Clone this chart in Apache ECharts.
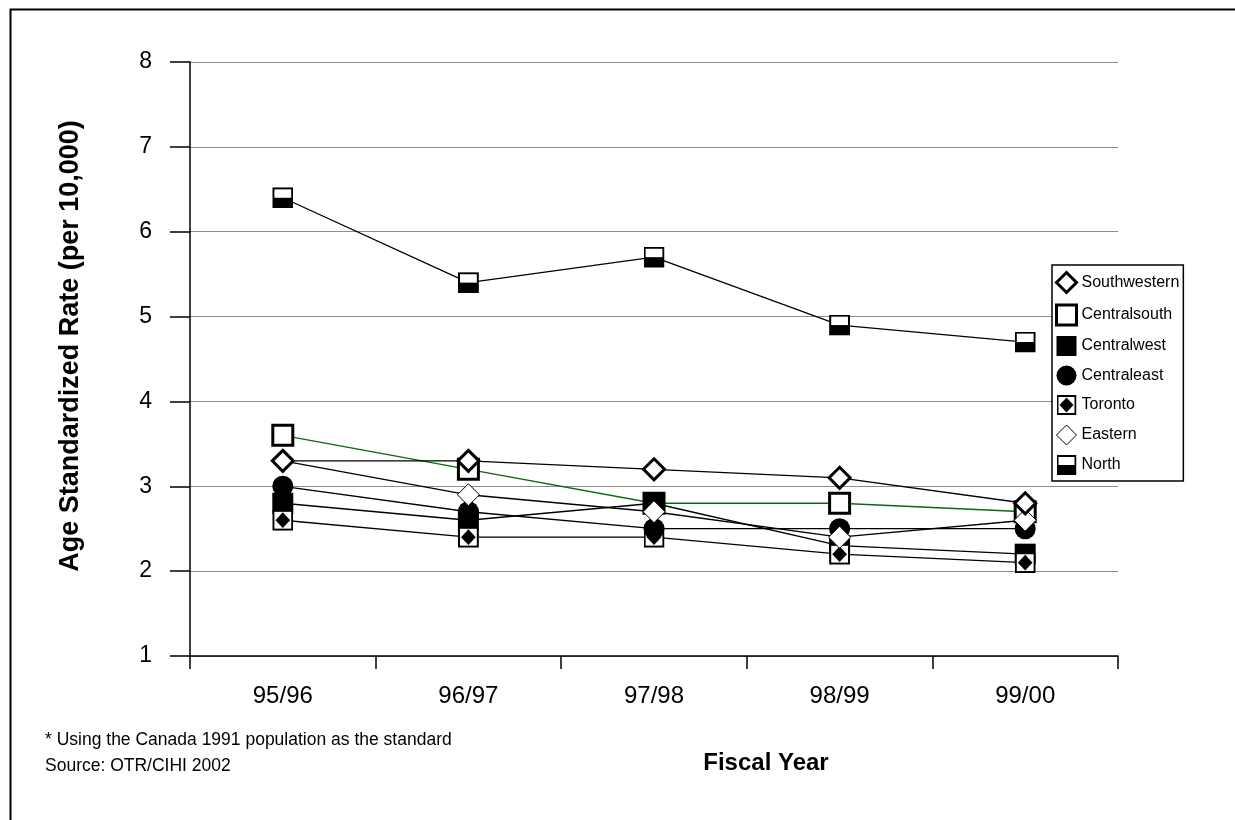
<!DOCTYPE html>
<html>
<head>
<meta charset="utf-8">
<script src="https://cdn.jsdelivr.net/npm/echarts@6/dist/echarts.min.js"></script>
<style>
html,body{margin:0;padding:0;background:#fff;}
#chart{width:1235px;height:820px;}
</style>
</head>
<body>
<div id="chart"></div>
<script>
const categories = ['95/96', '96/97', '97/98', '98/99', '99/00'];
const yTicks = [1, 2, 3, 4, 5, 6, 7, 8];
const southwestern = [3.3, 3.3, 3.2, 3.1, 2.8];
const centralsouth = [3.6, 3.2, 2.8, 2.8, 2.7];
const centralwest = [2.8, 2.6, 2.8, 2.3, 2.2];
const centraleast = [3.0, 2.7, 2.5, 2.5, 2.5];
const toronto = [2.6, 2.4, 2.4, 2.2, 2.1];
const eastern = [3.3, 2.9, 2.7, 2.4, 2.6];
const north = [6.4, 5.4, 5.7, 4.9, 4.7];
const seriesNames = ['Southwestern', 'Centralsouth', 'Centralwest', 'Centraleast', 'Toronto', 'Eastern', 'North'];

const svgUri = s => 'image://data:image/svg+xml;charset=utf-8,' + encodeURIComponent(s);
const torontoIcon = svgUri("<svg xmlns='http://www.w3.org/2000/svg' width='20' height='20' viewBox='0 0 20 20'><rect x='1' y='1' width='18' height='18' fill='white' stroke='black' stroke-width='2'/><path d='M10 2.5 L17 10 L10 17.5 L3 10 Z' fill='black'/></svg>");
const northIcon = svgUri("<svg xmlns='http://www.w3.org/2000/svg' width='20' height='20' viewBox='0 0 20 20'><rect x='1' y='1' width='18' height='18' fill='white' stroke='black' stroke-width='2'/><rect x='1' y='10' width='18' height='9' fill='black'/></svg>");

const FONT = '"Liberation Sans", Arial, sans-serif';
const lineW = 1.3;

function lineSeries(name, data, lineColor) {
  return {
    name: name, type: 'line', data: data, symbol: 'none',
    itemStyle: { color: lineColor || '#000' },
    lineStyle: { color: lineColor || '#000', width: lineW },
    emphasis: { disabled: true }, z: 2
  };
}
function markSeries(name, data, symbol, size, fill, bw) {
  return {
    name: name, type: 'scatter', data: data, symbol: symbol, symbolSize: size,
    itemStyle: { color: fill, borderColor: '#000', borderWidth: bw, opacity: 1 },
    emphasis: { disabled: true }, z: 3
  };
}

const chart = echarts.init(document.getElementById('chart'), null, { renderer: 'canvas' });
chart.setOption({
  animation: false,
  backgroundColor: '#fff',
  grid: { left: 190, top: 62, width: 928, height: 594, containLabel: false },
  xAxis: {
    type: 'category',
    data: categories,
    boundaryGap: true,
    axisLine: { lineStyle: { color: '#000', width: 1.5 } },
    axisTick: { show: true, length: 13, alignWithLabel: false, lineStyle: { color: '#000', width: 1.5 } },
    axisLabel: { margin: 28, fontFamily: FONT, fontSize: 24, color: '#000' },
    splitLine: { show: false }
  },
  yAxis: {
    type: 'value',
    min: yTicks[0],
    max: yTicks[yTicks.length - 1],
    interval: 1,
    axisLine: { show: true, lineStyle: { color: '#000', width: 1.5 } },
    axisTick: { show: true, length: 20, lineStyle: { color: '#000', width: 1.5 } },
    axisLabel: { margin: 38, fontFamily: FONT, fontSize: 23, color: '#000' },
    splitLine: { show: true, lineStyle: { color: '#8c8c8c', width: 1 } }
  },
  legend: {
    orient: 'vertical',
    left: 1052,
    top: 265,
    itemWidth: 20,
    itemHeight: 20,
    itemGap: 9.5,
    padding: [6, 4, 6, 3],
    borderColor: '#000',
    borderWidth: 1.5,
    backgroundColor: '#fff',
    textStyle: { fontFamily: FONT, fontSize: 16, color: '#000' },
    data: [
      { name: 'Southwestern', icon: 'diamond', itemStyle: { color: '#fff', borderColor: '#000', borderWidth: 3 } },
      { name: 'Centralsouth', icon: 'rect', itemStyle: { color: '#fff', borderColor: '#000', borderWidth: 3 } },
      { name: 'Centralwest', icon: 'rect', itemStyle: { color: '#000', borderWidth: 0 } },
      { name: 'Centraleast', icon: 'circle', itemStyle: { color: '#000', borderWidth: 0 } },
      { name: 'Toronto', icon: torontoIcon },
      { name: 'Eastern', icon: 'diamond', itemStyle: { color: '#fff', borderColor: '#000', borderWidth: 1 } },
      { name: 'North', icon: northIcon }
    ],
    selectedMode: false
  },
  series: [
    lineSeries(seriesNames[6], north),
    lineSeries(seriesNames[1], centralsouth, '#0b6a0b'),
    lineSeries(seriesNames[2], centralwest),
    lineSeries(seriesNames[4], toronto),
    lineSeries(seriesNames[3], centraleast),
    lineSeries(seriesNames[5], eastern),
    lineSeries(seriesNames[0], southwestern),
    markSeries(seriesNames[6], north, northIcon, 21, '#000', 0),
    markSeries(seriesNames[1], centralsouth, 'rect', 20, '#fff', 3),
    markSeries(seriesNames[2], centralwest, 'rect', 21, '#000', 0),
    markSeries(seriesNames[4], toronto, torontoIcon, 21, '#000', 0),
    markSeries(seriesNames[3], centraleast, 'circle', 21, '#000', 0),
    markSeries(seriesNames[5], eastern, 'diamond', 22, '#fff', 1),
    markSeries(seriesNames[0], southwestern, 'diamond', 21, '#fff', 3)
  ],
  graphic: [
    { type: 'rect', left: 8, top: 7, shape: { width: 1240, height: 840 }, style: { fill: 'none', stroke: '#000', lineWidth: 2 }, silent: true, z: -10 },
    { type: 'text', x: 71, y: 346, rotation: Math.PI / 2, style: { text: 'Age Standardized Rate (per 10,000)', font: 'bold 27px ' + FONT, fill: '#000', align: 'center', verticalAlign: 'middle' } },
    { type: 'text', x: 766, y: 763, style: { text: 'Fiscal Year', font: 'bold 24px ' + FONT, fill: '#000', align: 'center', verticalAlign: 'middle' } },
    { type: 'text', x: 45, y: 740, style: { text: '* Using the Canada 1991 population as the standard', font: '17.5px ' + FONT, fill: '#000', align: 'left', verticalAlign: 'middle' } },
    { type: 'text', x: 45, y: 766, style: { text: 'Source: OTR/CIHI 2002', font: '17.5px ' + FONT, fill: '#000', align: 'left', verticalAlign: 'middle' } }
  ]
});
</script>
</body>
</html>
